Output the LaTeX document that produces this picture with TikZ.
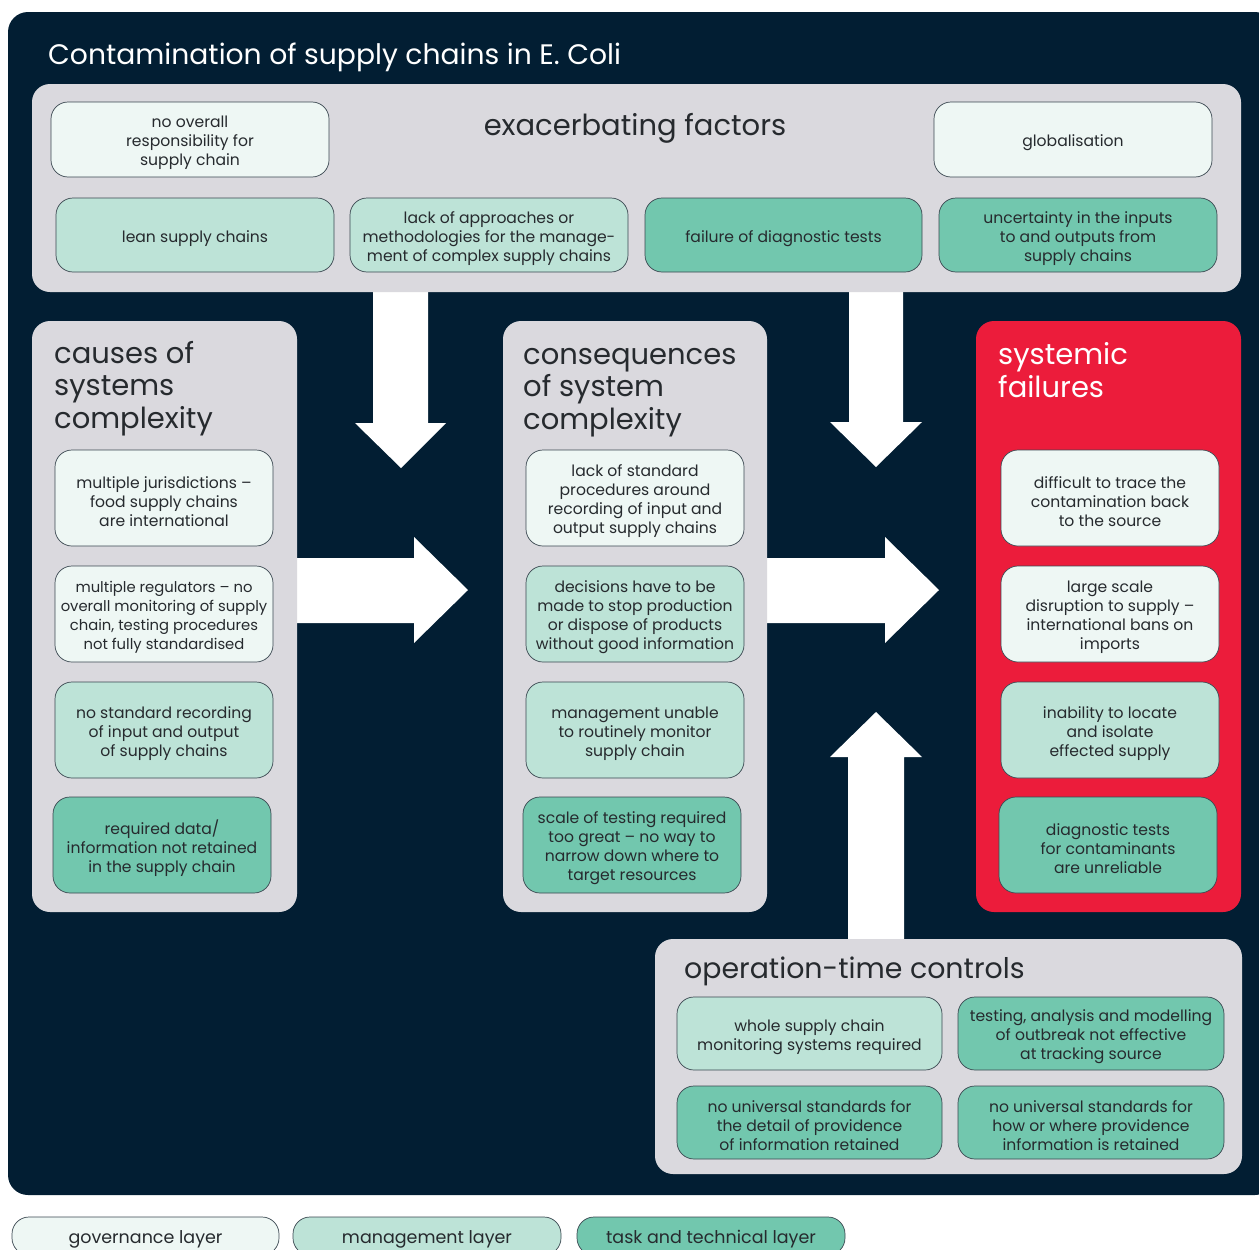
\documentclass[tikz,border=0pt]{standalone}
\usepackage{fontspec}
\setmainfont{Poppins}
\definecolor{navy}{HTML}{021E33}
\definecolor{panelgray}{HTML}{DAD9DE}
\definecolor{gov}{HTML}{EEF7F4}
\definecolor{mgmt}{HTML}{BDE3D7}
\definecolor{task}{HTML}{72C7AE}
\definecolor{alarm}{HTML}{EC1C3B}
\definecolor{boxline}{HTML}{3A4750}
\definecolor{ink}{HTML}{262A2E}
\tikzset{
  panel/.style={rounded corners=18pt, inner sep=0pt},
  cell/.style={draw=boxline, line width=0.7pt, rounded corners=17pt, inner sep=0pt},
  govcell/.style={cell, fill=gov},
  mgmtcell/.style={cell, fill=mgmt},
  taskcell/.style={cell, fill=task},
  celltext/.style={align=center, text=ink, font=\fontsize{15.6}{19}\selectfont, inner sep=0pt},
  tighttext/.style={font=\fontsize{14.8}{19}\selectfont},
  legendtext/.style={font=\fontsize{17.5}{20}\selectfont},
  heading/.style={text=ink, font=\fontsize{29}{32.5}\selectfont, align=left, inner sep=0pt},
  blockarrow/.style={fill=white, draw=none},
}
% a rounded layer box with its centred text:
% [#1] extra text style, #2 box style, #3 name, #4 x, #5 y, #6 width, #7 height, #8 text
\newcommand{\layerbox}[8][]{%
  \node[#2, minimum width=#6pt, minimum height=#7pt] (#3) at (#4,#5) {};
  \node[celltext, #1] (#3-text) at ([yshift=-3.5pt]#3.center) {#8};}
\begin{document}
\begin{tikzpicture}[x=1pt, y=-1pt]
\useasboundingbox (0,0) rectangle (1259,1250);
\begin{scope}
\clip (0,0) rectangle (1259,1250);

% dark backdrop
\fill[navy, rounded corners=20pt] (8,12) rectangle (1275,1195);
\node[anchor=base west, text=white, font=\fontsize{28.2}{31}\selectfont, inner sep=0pt]
  (title) at (48,64) {Contamination of supply chains in E. Coli};

% block arrows
\fill[blockarrow] (373,290) -- (428,290) -- (428,423) -- (446,423) -- (401,468) -- (355,423) -- (373,423) -- cycle;
\fill[blockarrow] (849,290) -- (903,290) -- (903,422) -- (922,422) -- (876,467) -- (830,422) -- (849,422) -- cycle;
\fill[blockarrow] (295,558) -- (414,558) -- (414,537) -- (468,590) -- (414,643) -- (414,623) -- (295,623) -- cycle;
\fill[blockarrow] (765,558) -- (885,558) -- (885,537) -- (939,590) -- (885,643) -- (885,623) -- (765,623) -- cycle;
\fill[blockarrow] (848,941) -- (848,757) -- (830,757) -- (876,712) -- (922,757) -- (904,757) -- (904,941) -- cycle;

% panels
\node[panel, fill=panelgray, minimum width=1209pt, minimum height=208pt] (exac) at (636.5,188) {};
\node[panel, fill=panelgray, minimum width=265pt, minimum height=591pt] (causes) at (164.5,616.5) {};
\node[panel, fill=panelgray, minimum width=264pt, minimum height=591pt] (cons) at (635,616.5) {};
\node[panel, fill=alarm, minimum width=265pt, minimum height=591pt] (fail) at (1108.5,616.5) {};
\node[panel, fill=panelgray, minimum width=587pt, minimum height=235pt] (ops) at (948.5,1056.5) {};

% panel headings (base = baseline of the last line)
\node[heading, anchor=base] (exacT) at (635,135) {exacerbating factors};
\node[heading, anchor=base west] (causesT) at (54,428) {causes of\\systems\\complexity};
\node[heading, anchor=base west] (consT) at (523,429) {consequences\\of system\\complexity};
\node[heading, anchor=base west, text=white] (failT) at (998,397) {systemic\\failures};
\node[heading, anchor=base west, font=\fontsize{28.4}{32}\selectfont] (opsT) at (684,978) {operation-time controls};

% exacerbating factors
\layerbox{govcell}{e1}{190}{139.5}{278}{75}{no overall\\responsibility for\\supply chain}
\layerbox{govcell}{e2}{1073}{139.5}{278}{75}{globalisation}
\layerbox{mgmtcell}{e3}{195}{235}{278}{74}{lean supply chains}
\layerbox{mgmtcell}{e4}{489}{235}{278}{74}{lack of approaches or\\methodologies for the manage-\\ment of complex supply chains}
\layerbox{taskcell}{e5}{783.5}{235}{277}{74}{failure of diagnostic tests}
\layerbox{taskcell}{e6}{1078}{235}{278}{74}{uncertainty in the inputs\\to and outputs from\\supply chains}

% causes of systems complexity
\layerbox{govcell}{c1}{164}{498}{218}{96}{multiple jurisdictions --\\food supply chains\\are international}
\layerbox[tighttext]{govcell}{c2}{164}{614}{218}{96}{multiple regulators -- no\\overall monitoring of supply\\chain, testing procedures\\not fully standardised}
\layerbox{mgmtcell}{c3}{164}{730}{218}{96}{no standard recording\\of input and output\\of supply chains}
\layerbox{taskcell}{c4}{162}{845}{218}{96}{required data/\\information not retained\\in the supply chain}

% consequences of system complexity
\layerbox{govcell}{k1}{635}{498}{218}{96}{lack of standard\\procedures around\\recording of input and\\output supply chains}
\layerbox{mgmtcell}{k2}{635}{614}{218}{96}{decisions have to be\\made to stop production\\or dispose of products\\without good information}
\layerbox{mgmtcell}{k3}{635}{730}{218}{96}{management unable\\to routinely monitor\\supply chain}
\layerbox{taskcell}{k4}{632}{845}{218}{96}{scale of testing required\\too great -- no way to\\narrow down where to\\target resources}

% systemic failures
\layerbox{govcell}{f1}{1110}{498}{218}{96}{difficult to trace the\\contamination back\\to the source}
\layerbox{govcell}{f2}{1110}{614}{218}{96}{large scale\\disruption to supply --\\international bans on\\imports}
\layerbox{mgmtcell}{f3}{1110}{730}{218}{96}{inability to locate\\and isolate\\effected supply}
\layerbox{taskcell}{f4}{1108}{845}{218}{96}{diagnostic tests\\for contaminants\\are unreliable}

% operation-time controls
\layerbox{mgmtcell}{o1}{809.5}{1033.5}{265}{73}{whole supply chain\\monitoring systems required}
\layerbox{taskcell}{o2}{1091}{1033.5}{266}{73}{testing, analysis and modelling\\of outbreak not effective\\at tracking source}
\layerbox{taskcell}{o3}{809.5}{1122.5}{265}{73}{no universal standards for\\the detail of providence\\of information retained}
\layerbox{taskcell}{o4}{1091}{1122.5}{266}{73}{no universal standards for\\how or where providence\\information is retained}

% legend
\layerbox[legendtext]{govcell}{l1}{145.5}{1236}{267}{38}{governance layer}
\layerbox[legendtext]{mgmtcell}{l2}{427}{1236}{268}{38}{management layer}
\layerbox[legendtext]{taskcell}{l3}{711}{1236}{268}{38}{task and technical layer}
\end{scope}
\end{tikzpicture}
\end{document}
